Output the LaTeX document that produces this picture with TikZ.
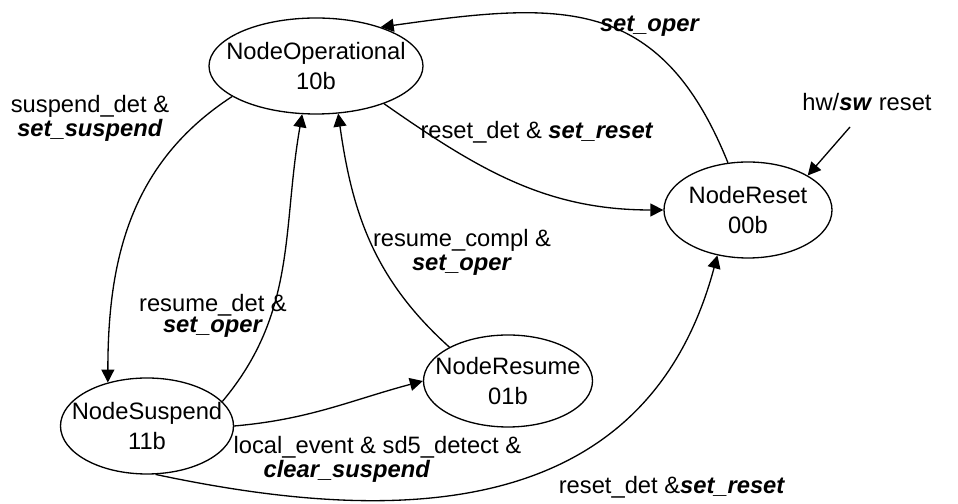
\documentclass[tikz,border=0pt]{standalone}
\usepackage{fontspec}
\setmainfont{Liberation Sans}
\usetikzlibrary{shapes.geometric,arrows.meta}
\newcommand{\act}[1]{\textbf{\textit{#1}}}
\begin{document}
\begin{tikzpicture}[>={Triangle[length=0.26cm,width=0.26cm]},line width=0.75pt,font=\fontsize{13.5pt}{17pt}\selectfont]
	\tikzstyle{state}=[ellipse,draw,align=center,inner xsep=-3mm,inner ysep=0pt,minimum height=1.92cm]
	\tikzstyle{lbl}=[align=center,inner sep=0pt,font=\fontsize{13.5pt}{12pt}\selectfont]
	\useasboundingbox (0,0) rectangle (19.16,10.08);

	\node[state,minimum width=4.28cm] (OP) at (6.32,8.76) {NodeOperational\\10b};
	\node[state,minimum width=3.36cm] (RST) at (14.96,5.88) {NodeReset\\00b};
	\node[state,minimum width=3.46cm] (SUS) at (2.94,1.56) {NodeSuspend\\11b};
	\node[state,minimum width=3.38cm,minimum height=1.84cm] (RES) at (10.16,2.46) {NodeResume\\01b};
	\coordinate (HW) at (17.0,7.54);

	\path (RST.113) edge[->,out=112,in=8,looseness=1.25] (OP.31);
	\path (OP.-29) edge[->,out=-35,in=180] (RST.west);
	\path (OP.200) edge[->,out=213,in=90] (SUS.132);
	\path (SUS.18) edge[->,out=50,in=260] (OP.-106);
	\path (RES.150) edge[->,out=138,in=278] (OP.-65);
	\path (SUS.east) edge[->,out=5,in=195] (RES.west);
	\path (SUS.-80) edge[->,out=-12,in=255,in looseness=1.2] (RST.-124);
	\path (HW) edge[->] (RST.30);

	\node[lbl] (Lsetoper) at (13.0,9.55) {\act{set\_oper}};
	\node[lbl] (Lresetdet) at (10.74,7.44) {reset\_det \& \act{set\_reset}};
	\node[lbl,font=\fontsize{13.5pt}{8.8pt}\selectfont] (Lsuspend) at (1.8,7.72) {suspend\_det \&\\\act{set\_suspend}};
	\node[lbl] (Lresumedet) at (4.26,3.76) {resume\_det \&\\\act{set\_oper}};
	\node[lbl,font=\fontsize{13.5pt}{13.7pt}\selectfont] (Lresumecompl) at (9.24,5.03) {resume\_compl \&\\\act{set\_oper}};
	\node[lbl,align=left,anchor=west] (Llocal) at (4.66,0.89) {local\_event \& sd5\_detect \&\\\hspace*{0.6cm}\act{clear\_suspend}};
	\node[lbl] (Lreset2) at (13.44,0.34) {reset\_det \&\act{set\_reset}};
	\node[lbl] (Lhw) at (17.34,8.04) {hw/\act{sw} reset};
\end{tikzpicture}
\end{document}
